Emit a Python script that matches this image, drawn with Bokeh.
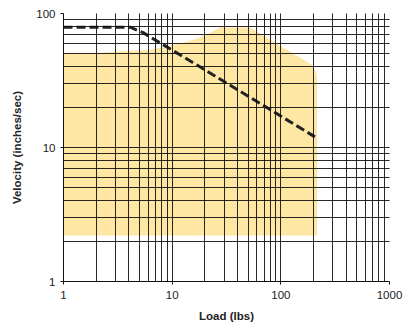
from bokeh.plotting import figure
from bokeh.models import FixedTicker, PrintfTickFormatter
from bokeh.embed import file_html
from bokeh.resources import INLINE

# Operating envelope (shaded region)
env_load = [1, 2.2, 6.2, 12.6, 18, 23.7, 27.5, 52, 193, 215, 215, 1]
env_vel = [51, 51, 53.6, 60.6, 66, 73.3, 78.5, 78.5, 41.5, 35, 2.2, 2.2]

# Max velocity curve (dashed)
curve_load = [1, 4.1, 5.4, 18, 206]
curve_vel = [79, 79, 72, 40, 12]

x_major = [1, 10, 100, 1000]
y_major = [1, 10, 100]
x_grid = [m * 10 ** k for k in range(0, 3) for m in range(1, 10)] + [1000]
y_grid = [m * 10 ** k for k in range(0, 2) for m in range(1, 10)] + [100]

p = figure(width=403, height=325, x_axis_type="log", y_axis_type="log",
           x_range=(1, 1000), y_range=(1, 100),
           output_backend="svg", toolbar_location=None,
           min_border_left=63, min_border_right=14, min_border_top=13,
           min_border_bottom=44)
p.outline_line_color = None
p.background_fill_color = "white"

p.patch(env_load, env_vel, fill_color="#FEE6A3", line_color=None)
p.line(curve_load, curve_vel, line_color="#222222", line_width=3, line_dash="9 4")

for g, t in ((p.xgrid, x_grid), (p.ygrid, y_grid)):
    g.ticker = FixedTicker(ticks=t)
    g.grid_line_color = "#111111"
    g.grid_line_alpha = 0.9
    g.grid_line_width = 1
    g.level = "overlay"

p.xaxis.ticker = FixedTicker(ticks=x_major, minor_ticks=[])
p.yaxis.ticker = FixedTicker(ticks=y_major, minor_ticks=[])
for ax in (p.xaxis, p.yaxis):
    ax.formatter = PrintfTickFormatter(format="%d")
    ax.axis_line_color = "#111111"
    ax.major_tick_line_color = "#111111"
    ax.major_tick_out = 3
    ax.major_tick_in = 0
    ax.minor_tick_line_color = None
    ax.major_label_text_font = "Liberation Sans"
    ax.major_label_text_font_size = "11.5px"
    ax.major_label_text_color = "#222222"
    ax.axis_label_text_font = "Liberation Sans"
    ax.axis_label_text_font_size = "11.5px"
    ax.axis_label_text_font_style = "bold"
    ax.axis_label_text_color = "#222222"

p.xaxis.axis_label = "Load (lbs)"
p.yaxis.axis_label = "Velocity (inches/sec)"
p.xaxis.major_label_standoff = 6
p.xaxis.axis_label_standoff = 8
p.yaxis.major_label_standoff = 5
p.yaxis.axis_label_standoff = 10

open("out.html", "w").write(file_html(p, INLINE))
